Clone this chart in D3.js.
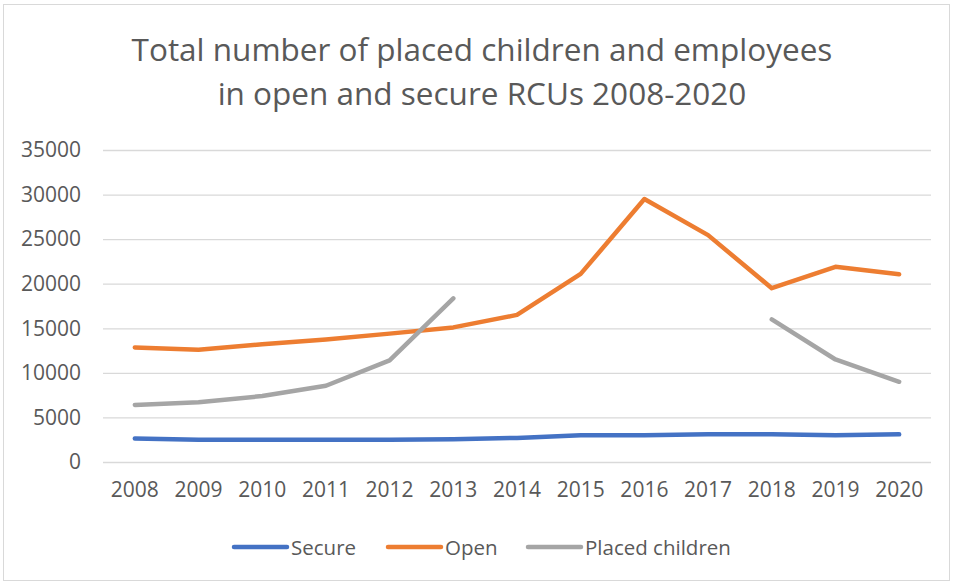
<!DOCTYPE html>
<html>
<head>
<meta charset="utf-8">
<script src="https://cdn.jsdelivr.net/npm/d3@7"></script>
<style>
  body { margin: 0; background: #fff; }
  svg text { font-family: "Open Sans", sans-serif; fill: #595959; }
</style>
</head>
<body>
<div id="chart"></div>
<script>
// chart data
var years = ["2008", "2009", "2010", "2011", "2012", "2013", "2014",
             "2015", "2016", "2017", "2018", "2019", "2020"];
var secure = [2650, 2500, 2500, 2500, 2500, 2550, 2700, 3000, 3000, 3100, 3100, 3000, 3100];
var open = [12850, 12600, 13200, 13750, 14400, 15100, 16500, 21100, 29500, 25450, 19500, 21900, 21050];
var placed = [6400, 6700, 7400, 8550, 11400, 18350, null, null, null, null, 16000, 11500, 9000];
var yTicks = [0, 5000, 10000, 15000, 20000, 25000, 30000, 35000];
var titleLines = ["Total number of placed children and employees",
                  "in open and secure RCUs 2008-2020"];

var series = [
  {name: "Secure", values: secure, color: "#4472C4"},
  {name: "Open", values: open, color: "#ED7D31"},
  {name: "Placed children", values: placed, color: "#A5A5A5"}
];

var W = 953, H = 584;
var margin = {top: 150, right: 22, bottom: 122, left: 103},
    width = W - margin.left - margin.right,
    height = H - margin.top - margin.bottom;

var svg = d3.select("#chart").append("svg")
    .attr("width", W)
    .attr("height", H);

// outer border
svg.append("rect")
    .attr("x", 3.5).attr("y", 4.5)
    .attr("width", 946).attr("height", 576)
    .attr("fill", "none")
    .attr("stroke", "#d9d9d9");

// title
svg.append("text")
    .attr("text-anchor", "middle")
    .style("font-size", "31.5px")
    .selectAll("tspan")
    .data(titleLines)
  .enter().append("tspan")
    .attr("x", 482)
    .attr("y", function(d, i) { return 61 + i * 44; })
    .text(function(d) { return d; });

var g = svg.append("g")
    .attr("transform", "translate(" + margin.left + "," + margin.top + ")");

var xScale = d3.scaleBand().domain(years).range([0, width]);
var yScale = d3.scaleLinear().domain([0, 35000]).range([height, 0]);

// gridlines + y labels
g.append("g")
    .attr("class", "axisY")
    .call(d3.axisLeft(yScale).tickValues(yTicks).tickFormat(d3.format("d"))
      .tickSize(-width).tickPadding(22))
    .call(function(a) {
      a.select(".domain").remove();
      a.selectAll(".tick line").attr("stroke", "#d9d9d9").attr("stroke-width", 1.3);
      a.selectAll(".tick text").style("font-size", "21px").attr("fill", "#595959");
    });

// x labels
g.append("g")
    .attr("class", "axisX")
    .attr("transform", "translate(0," + height + ")")
    .call(d3.axisBottom(xScale).tickSize(0).tickPadding(20))
    .call(function(a) {
      a.select(".domain").remove();
      a.selectAll(".tick text").style("font-size", "21px").attr("fill", "#595959");
    });

var line = d3.line()
    .defined(function(d) { return d != null; })
    .x(function(d, i) { return xScale(years[i]) + xScale.bandwidth() / 2; })
    .y(function(d) { return yScale(d); });

series.forEach(function(s) {
  g.append("path")
      .datum(s.values)
      .attr("fill", "none")
      .attr("stroke", s.color)
      .attr("stroke-width", 4.5)
      .attr("stroke-linecap", "round")
      .attr("stroke-linejoin", "round")
      .attr("d", line);
});

// legend
var legendX = [234, 388, 528];
var legend = svg.append("g").attr("transform", "translate(0,547)");
series.forEach(function(s, i) {
  legend.append("line")
      .attr("x1", legendX[i]).attr("x2", legendX[i] + 53)
      .attr("y1", 0).attr("y2", 0)
      .attr("stroke", s.color)
      .attr("stroke-width", 4.5)
      .attr("stroke-linecap", "round");
  legend.append("text")
      .attr("x", legendX[i] + 57)
      .attr("y", 7.5)
      .style("font-size", "20.5px")
      .text(s.name);
});
</script>
</body>
</html>
